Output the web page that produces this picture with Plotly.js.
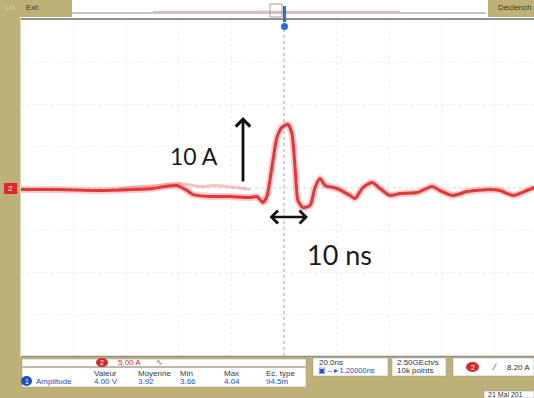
<!DOCTYPE html>
<html>
<head>
<meta charset="utf-8">
<script src="https://cdn.plot.ly/plotly-3.0.1.min.js"></script>
<style>html,body{margin:0;padding:0;background:#fff;}#chart{width:534px;height:398px;}</style>
</head>
<body>
<div id="chart"></div>
<script>
// ---- data (time in ns, current in A) ----
const time_ns = [-100.0,-85.2,-70.0,-57.4,-49.8,-45.2,-40.7,-36.9,-34.6,-28.1,-20.5,-12.9,-10.3,-8.0,-6.5,-4.6,-2.7,-0.8,1.5,3.0,4.2,5.3,7.2,9.9,11.8,13.7,15.6,20.2,25.1,27.0,30.0,33.5,36.5,40.3,44.1,50.6,56.3,59.3,64.3,69.6,78.3,82.1,87.1,92.4,95.1];
const current_A = [-0.18,-0.18,-0.30,-0.18,-0.06,0.18,0.30,-0.30,-0.78,-1.01,-1.01,-1.13,-1.01,-1.73,-1.01,2.45,6.02,7.22,7.58,6.50,2.45,-1.49,-2.33,-2.09,0.06,1.13,0.30,-0.06,-0.89,-1.25,0.06,0.66,-0.06,-0.89,-0.66,-0.54,0.18,-0.30,-0.89,-0.42,-0.18,-0.30,-0.89,-0.30,0.06];
const persist_t = [-62.4,-54.7,-47.1,-39.5,-31.9,-26.2,-18.6,-12.9];
const persist_i = [-0.06,0.18,0.30,0.54,0.18,0.30,0.06,-0.18];
const xRange = [-100, 95.06];
const yRange = [-20, 20];
const topLeftLabel = "Ext:";
const topRightLabel = "Déclench";
const chScale = "5.00 A";
const measHeaders = ["Valeur","Moyenne","Min","Max","Ec. type"];
const measValues = ["4.00 V","3.92","3.66","4.04","94.5m"];
const timebase = ["20.0ns", "1.20000ns"];
const sampling = ["2.50GEch/s","10k points"];
const trigLevel = "8.20 A";
const dateLabel = "21 Mai 201";

// ---- geometry helpers (pixel -> paper) ----
const L=21, T=20, W=513, H=336;
const fx = p => (p-L)/W;
const fy = p => (T+H-p)/H;
const OLIVE = '#bdb178';

function rect(x0,y0,x1,y1,fill,line,lw){
  return {type:'rect',xref:'paper',yref:'paper',x0:fx(x0),x1:fx(x1),y0:fy(y1),y1:fy(y0),
    fillcolor:fill,line:{color:line||fill,width:lw===undefined?0:lw},layer:'above'};
}
function txt(x,y,t,size,color,anchor,extra){
  return Object.assign({xref:'paper',yref:'paper',x:fx(x),y:fy(y),text:t,showarrow:false,
    xanchor:anchor||'left',yanchor:'middle',font:{family:'Liberation Sans, Arial',size:size,color:color}},extra||{});
}

const shapes = [
  rect(0,0,20.5,357,OLIVE),
  rect(0,0,72,17,OLIVE),
  rect(72,0,488,18,'#ffffff'),
  rect(488,0,534,17,OLIVE),
  {type:'line',xref:'paper',yref:'paper',x0:fx(72),x1:fx(486),y0:fy(13),y1:fy(13),line:{color:'#8a8a8a',width:1},layer:'above'},
  {type:'line',xref:'paper',yref:'paper',x0:fx(153),x1:fx(400),y0:fy(11.5),y1:fy(11.5),line:{color:'#f0b8b8',width:1.5},layer:'above'},
  rect(270,4,282,17,'rgba(0,0,0,0)','#a0a0a0',1),
  {type:'line',xref:'paper',yref:'paper',x0:fx(21),x1:1,y0:fy(19),y1:fy(19),line:{color:'#6d6d6d',width:1.5},layer:'above'},
  {type:'line',xref:'paper',yref:'paper',x0:fx(21),x1:1,y0:fy(356.5),y1:fy(356.5),line:{color:'#8d8d8d',width:1.5},layer:'above'},
  {type:'line',xref:'x',yref:'paper',x0:0,x1:0,y0:0,y1:1,line:{color:'#a8a8a8',width:1,dash:'dot'},layer:'below'},
  {type:'line',xref:'paper',yref:'y',x0:0,x1:1,y0:0,y1:0,line:{color:'#cfcfcf',width:1,dash:'dot'},layer:'below'},
  rect(0,357,534,398,OLIVE),
  rect(22,359,306,366.5,'#ffffff','#9a9a9a',0.5),
  rect(22,367.5,306,387,'#ffffff','#9a9a9a',0.5),
  rect(313,358,388,376,'#ffffff','#9a9a9a',0.5),
  rect(392,358,446,376,'#ffffff','#9a9a9a',0.5),
  rect(453,358,534,376,'#ffffff','#9a9a9a',0.5),
  rect(484,391,534,398,'#ffffff','#9a9a9a',0.5),
  rect(4,183,17,194,'#e0282c'),
  {type:'circle',xref:'paper',yref:'paper',x0:fx(96),x1:fx(108),y0:fy(367),y1:fy(358),fillcolor:'#d42a2a',line:{width:0},layer:'above'},
  {type:'circle',xref:'paper',yref:'paper',x0:fx(466),x1:fx(479),y0:fy(372),y1:fy(362),fillcolor:'#d42a2a',line:{width:0},layer:'above'},
  {type:'circle',xref:'paper',yref:'paper',x0:fx(21),x1:fx(32),y0:fy(386),y1:fy(376),fillcolor:'#1e4fc8',line:{width:0},layer:'above'},
  {type:'circle',xref:'paper',yref:'paper',x0:fx(281),x1:fx(288),y0:fy(30),y1:fy(23),fillcolor:'#2b6fd6',line:{width:0},layer:'above'},
  {type:'line',xref:'paper',yref:'paper',x0:fx(284.5),x1:fx(284.5),y0:fy(22),y1:fy(6),line:{color:'#2b6fd6',width:3},layer:'above'}
];

const annotations = [
  txt(3,8,'Lxt',7,'#d8d0a8'),
  txt(24,8,topLeftLabel,8,'#3a3520'),
  txt(533,8,topRightLabel,8,'#3a3520','right'),
  txt(10.5,188.5,'2',8,'#ffffff','center'),
  txt(102,362.5,'2',7,'#ffffff','center'),
  txt(116,362.5,chScale,8,'#d42a2a'),
  txt(154,362.5,'∿',8,'#d42a2a'),
  txt(26.5,381,'1',7,'#ffffff','center'),
  txt(34,381,'Amplitude',8,'#1e4fc8'),
  txt(472.5,367,'2',7,'#ffffff','center'),
  txt(490,367,'∕',9,'#333333'),
  txt(505,367,trigLevel,8,'#333333'),
  txt(317,362.5,timebase[0],8,'#333333'),
  txt(316,370.5,'▣→▸ '+timebase[1],7.5,'#1e4fc8'),
  txt(395,362.5,sampling[0],8,'#333333'),
  txt(395,370.5,sampling[1],8,'#333333'),
  txt(486,394.5,dateLabel,7,'#333333'),
  txt(168,156,'10 A',23,'#1a1a1a','left',{font:{family:'Lato, Open Sans, sans-serif',size:23,color:'#1a1a1a'}}),
  txt(305,254,'10 ns',27,'#1a1a1a','left',{font:{family:'Lato, Open Sans, sans-serif',size:27,color:'#1a1a1a'}}),
  {xref:'paper',yref:'paper',x:fx(243),y:fy(117),ax:0,ay:66,axref:'pixel',ayref:'pixel',text:'',showarrow:true,arrowhead:4,arrowsize:1,arrowwidth:2.8,arrowcolor:'#111111'},
  {xref:'paper',yref:'paper',x:fx(308),y:fy(217),ax:-40,ay:0,text:'',showarrow:true,arrowside:'end+start',arrowhead:4,startarrowhead:4,arrowsize:1,startarrowsize:1,arrowwidth:2.5,arrowcolor:'#111111'}
];
measHeaders.forEach((h,i)=>{
  const xs=[92,136,178,222,264];
  annotations.push(txt(xs[i],373,h,8,'#3a3a3a'));
  annotations.push(txt(xs[i],381.5,measValues[i],8,'#1e4fc8'));
});

const traces = [
  {x:persist_t,y:persist_i,mode:'lines',line:{color:'rgba(236,120,120,0.45)',width:3,shape:'spline'},hoverinfo:'skip'},
  {x:time_ns,y:current_A,mode:'lines',line:{color:'rgba(240,110,110,0.35)',width:7,shape:'spline',smoothing:0.6},hoverinfo:'skip'},
  {x:time_ns,y:current_A,mode:'lines',line:{color:'#e3373a',width:3,shape:'spline',smoothing:0.6},hoverinfo:'skip'}
];

const layout = {
  width:534,height:398,
  margin:{l:L,r:0,t:T,b:398-T-H,pad:0},
  paper_bgcolor:'#ffffff',plot_bgcolor:'#ffffff',
  showlegend:false,
  xaxis:{range:xRange,showticklabels:false,ticks:'',showgrid:true,gridcolor:'#efefef',griddash:'dot',tick0:0,dtick:20,zeroline:false,showline:false,fixedrange:true},
  yaxis:{range:yRange,showticklabels:false,ticks:'',showgrid:true,gridcolor:'#efefef',griddash:'dot',tick0:0,dtick:5,zeroline:false,showline:false,fixedrange:true},
  shapes:shapes,
  annotations:annotations
};
Plotly.newPlot('chart',traces,layout,{staticPlot:true,displayModeBar:false});
</script>
</body>
</html>
